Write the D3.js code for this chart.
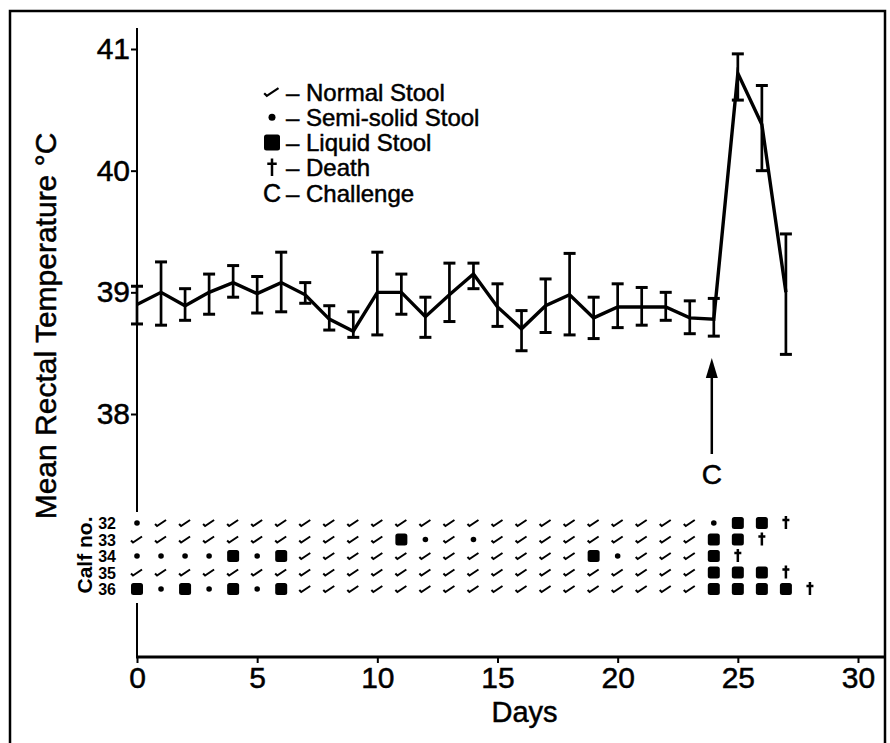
<!DOCTYPE html>
<html>
<head>
<meta charset="utf-8">
<script src="https://cdn.jsdelivr.net/npm/d3@7"></script>
<style>
  body { margin: 0; background: #fff; }
  svg { display: block; font-family: "Liberation Sans", Arial, Helvetica, sans-serif; }
  text { stroke: #000; stroke-width: 0.5px; }
</style>
</head>
<body>
<svg id="chart" width="890" height="743"></svg>
<script>
// mean rectal temperature per day, with the error bar ends
var days = [0, 1, 2, 3, 4, 5, 6, 7, 8, 9, 10, 11, 12, 13, 14, 15, 16, 17, 18, 19, 20, 21, 22, 23, 24, 25, 26, 27];
var tempMean = [38.9, 39.0, 38.89, 39.0, 39.08, 38.99, 39.08, 38.98, 38.78, 38.68, 39.0, 39.0, 38.8, 38.98, 39.15,
                38.88, 38.7, 38.89, 38.98, 38.79, 38.88, 38.88, 38.88, 38.79, 38.78, 40.8, 40.38, 39.0];
var tempLow = [38.74, 38.73, 38.77, 38.82, 38.96, 38.83, 38.84, 38.91, 38.69, 38.63, 38.65, 38.82, 38.63, 38.76, 39.03,
               38.72, 38.52, 38.67, 38.65, 38.62, 38.71, 38.73, 38.77, 38.66, 38.64, 40.58, 40.0, 38.49];
var tempHigh = [39.05, 39.25, 39.03, 39.15, 39.22, 39.13, 39.33, 39.08, 38.89, 38.84, 39.33, 39.15, 38.96, 39.24, 39.24,
                39.07, 38.85, 39.11, 39.32, 38.96, 39.07, 39.04, 39.0, 38.93, 38.95, 40.96, 40.7, 39.48];

// stool record per calf, one letter per day from day 0
// n = normal, s = semi-solid, l = liquid, d = death
var calves = ['32', '33', '34', '35', '36'];
var stool32 = 'snnnnnnnnnnnnnnnnnnnnnnnslld';
var stool33 = 'nnnnnnnnnnnlsnsnnnnnnnnnlld';
var stool34 = 'sssslslnnnnnnnnnnnnlsnnnld';
var stool35 = 'nnnnnnnnnnnnnnnnnnnnnnnnllld';
var stool36 = 'lslslslnnnnnnnnnnnnnnnnnlllld';
var stoolRows = [stool32, stool33, stool34, stool35, stool36];

var xTicks = [0, 5, 10, 15, 20, 25, 30];
var yTicks = [38, 39, 40, 41];
var challengeDay = 24;

var legendItems = [
    { sym: 'n', label: 'Normal Stool' },
    { sym: 's', label: 'Semi-solid Stool' },
    { sym: 'l', label: 'Liquid Stool' },
    { sym: 'd', label: 'Death' },
    { sym: 'c', label: 'Challenge' }
];

var svg = d3.select('#chart');

var x = d3.scaleLinear().domain([0, 30]).range([137, 858]);
var y = d3.scaleLinear().domain([38, 41]).range([414, 49]);
var rowY = d3.scalePoint().domain(calves).range([523, 589]);

// outer frame
svg.append('path')
    .attr('d', 'M10,745 L10,11 L885,11 L885,745')
    .attr('fill', 'none')
    .attr('stroke', '#000')
    .attr('stroke-width', 2.5);

// axes
var yAxis = svg.append('g')
    .attr('transform', 'translate(' + x(0) + ',0)')
    .call(d3.axisLeft(y).tickValues(yTicks).tickSize(6).tickPadding(1).tickFormat(d3.format('d')));
yAxis.select('.domain').remove();
yAxis.selectAll('line').attr('stroke-width', 2);
yAxis.selectAll('text').style('font-size', '30px').attr('fill', '#000');

svg.append('line')
    .attr('x1', x(0)).attr('x2', x(0))
    .attr('y1', 28).attr('y2', 512)
    .attr('stroke', '#000').attr('stroke-width', 2);
svg.append('line')
    .attr('x1', x(0)).attr('x2', x(0))
    .attr('y1', 603).attr('y2', 658)
    .attr('stroke', '#000').attr('stroke-width', 2);

var xAxis = svg.append('g')
    .attr('transform', 'translate(0,657)')
    .call(d3.axisBottom(x).tickValues(xTicks).tickSize(6).tickPadding(4));
xAxis.select('.domain').remove();
xAxis.selectAll('line').attr('stroke-width', 2);
xAxis.selectAll('text').style('font-size', '30px').attr('fill', '#000');

svg.append('line')
    .attr('x1', x(0) - 1).attr('x2', 885)
    .attr('y1', 657).attr('y2', 657)
    .attr('stroke', '#000').attr('stroke-width', 3);

svg.append('text')
    .attr('x', x(15) + 27)
    .attr('y', 722)
    .attr('text-anchor', 'middle')
    .style('font-size', '29px')
    .text('Days');

svg.append('text')
    .attr('transform', 'translate(56,326) rotate(-90)')
    .attr('text-anchor', 'middle')
    .style('font-size', '30px')
    .text('Mean Rectal Temperature °C');

// temperature line with error bars
var temps = days.map(function(d, i) {
    return { day: d, mean: tempMean[i], low: tempLow[i], high: tempHigh[i] };
});

var bars = svg.append('g').selectAll('g')
    .data(temps)
    .enter()
    .append('g');

bars.append('line')
    .attr('x1', function(d) { return x(d.day); })
    .attr('x2', function(d) { return x(d.day); })
    .attr('y1', function(d) { return y(d.low); })
    .attr('y2', function(d) { return y(d.high); })
    .attr('stroke', '#000').attr('stroke-width', 2.7);

bars.selectAll('.cap')
    .data(function(d) { return [{ day: d.day, v: d.low }, { day: d.day, v: d.high }]; })
    .enter()
    .append('line')
    .attr('class', 'cap')
    .attr('x1', function(d) { return x(d.day) - 6; })
    .attr('x2', function(d) { return x(d.day) + 6; })
    .attr('y1', function(d) { return y(d.v); })
    .attr('y2', function(d) { return y(d.v); })
    .attr('stroke', '#000').attr('stroke-width', 3);

var line = d3.line()
    .x(function(d) { return x(d.day); })
    .y(function(d) { return y(d.mean); });

svg.append('path')
    .datum(temps)
    .attr('d', line)
    .attr('fill', 'none')
    .attr('stroke', '#000')
    .attr('stroke-width', 3.4)
    .attr('stroke-linejoin', 'miter');

// challenge arrow
var ax = x(challengeDay) - 2;
svg.append('line')
    .attr('x1', ax).attr('x2', ax)
    .attr('y1', 454).attr('y2', 372)
    .attr('stroke', '#000').attr('stroke-width', 2.5);
svg.append('path')
    .attr('d', 'M' + ax + ',358 L' + (ax - 6) + ',378 L' + (ax + 6) + ',378 Z')
    .attr('fill', '#000');
svg.append('text')
    .attr('x', ax)
    .attr('y', 484)
    .attr('text-anchor', 'middle')
    .style('font-size', '28px')
    .text('C');

// stool symbols
function drawSymbol(g, code, big) {
    var k = big ? 1.3 : 1;
    if (code === 'n') {
        g.append('path')
            .attr('d', 'M' + (-6 * k) + ',' + (1 * k) + ' L' + (-4 * k) + ',' + (3 * k) + ' L' + (5 * k) + ',' + (-3 * k))
            .attr('fill', 'none')
            .attr('stroke', '#000')
            .attr('stroke-width', big ? 2.2 : 2);
    } else if (code === 's') {
        g.append('circle').attr('r', big ? 3.5 : 2.8).attr('fill', '#000');
    } else if (code === 'l') {
        var s = big ? 16 : 12;
        g.append('rect')
            .attr('x', -s / 2).attr('y', -s / 2)
            .attr('width', s).attr('height', s)
            .attr('rx', 2.5)
            .attr('fill', '#000');
    } else if (code === 'd') {
        var h = big ? 1.35 : 1;
        g.append('path')
            .attr('d', 'M0,' + (-7 * h) + ' L0,' + (6 * h) + ' M' + (-3.5 * h) + ',' + (-3 * h) + ' L' + (3.5 * h) + ',' + (-3 * h))
            .attr('fill', 'none')
            .attr('stroke', '#000')
            .attr('stroke-width', 2.5);
    } else if (code === 'c') {
        g.append('text')
            .attr('text-anchor', 'middle')
            .attr('y', 9)
            .style('font-size', '25px')
            .text('C');
    }
}

var grid = svg.append('g');
stoolRows.forEach(function(row, r) {
    row.split('').forEach(function(code, day) {
        var g = grid.append('g')
            .attr('transform', 'translate(' + x(day) + ',' + rowY(calves[r]) + ')');
        drawSymbol(g, code, false);
    });
});

// calf numbers
svg.append('g').selectAll('text')
    .data(calves)
    .enter()
    .append('text')
    .attr('x', 116)
    .attr('y', function(d) { return rowY(d) + 6; })
    .attr('text-anchor', 'end')
    .style('font-size', '16px')
    .style('font-weight', 'bold')
    .style('stroke-width', '0px')
    .text(function(d) { return d; });

svg.append('text')
    .attr('transform', 'translate(92,555) rotate(-90)')
    .attr('text-anchor', 'middle')
    .style('font-size', '21px')
    .style('font-weight', 'bold')
    .style('stroke-width', '0px')
    .text('Calf no.');

// legend
var legend = svg.append('g');
legendItems.forEach(function(item, i) {
    var cy = 92 + i * 25.3;
    var g = legend.append('g').attr('transform', 'translate(272,' + cy + ')');
    drawSymbol(g, item.sym, true);
    legend.append('text')
        .attr('x', 286)
        .attr('y', cy + 8.5)
        .style('font-size', '24px')
        .text('– ' + item.label);
});
</script>
</body>
</html>
